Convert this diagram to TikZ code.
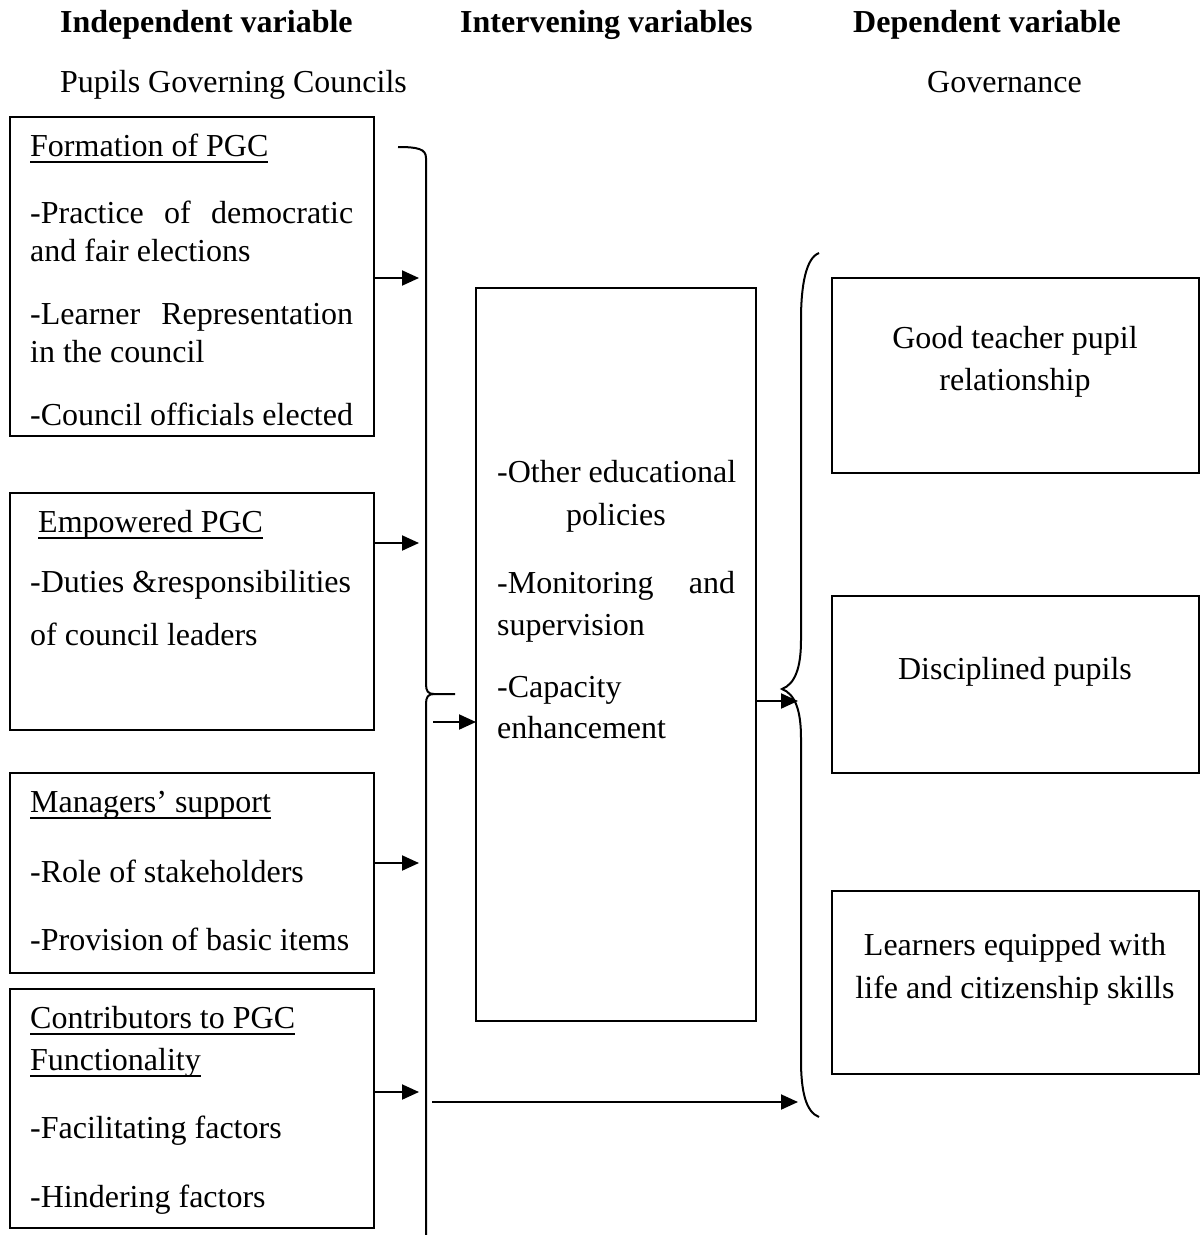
\documentclass[tikz,border=0pt]{standalone}
\usepackage{fontspec}
\setmainfont{Liberation Serif}
\usetikzlibrary{arrows.meta}
\newsavebox\ulbox
\newcommand\myul[1]{\sbox\ulbox{#1}\rlap{\rule[-7pt]{\wd\ulbox}{1.8pt}}\usebox\ulbox}
\begin{document}
\begin{tikzpicture}[x=1pt,y=-1pt,
  box/.style={draw,line width=1.8pt,anchor=north west,inner sep=0pt,outer sep=0pt},
  txt/.style={inner sep=0pt,anchor=base west,font=\fontsize{32}{37}\selectfont},
  ctxt/.style={txt,anchor=base},
  arr/.style={-{Triangle[length=17pt,width=15pt]},line width=2pt},
  brace/.style={line width=2pt}]
\useasboundingbox (0,0) rectangle (1200,1235);
% headers
\node[txt] (h1) at (60,32) {\bfseries Independent variable};
\node[txt] (h2) at (460,32) {\bfseries Intervening variables};
\node[txt] (h3) at (853,32) {\bfseries Dependent variable};
\node[txt] (s1) at (60,92) {Pupils Governing Councils};
\node[txt] (s3) at (927,92) {Governance};
% left boxes
\node[box,minimum width=364pt,minimum height=319pt] (L1) at (10,117) {};
\node[box,minimum width=364pt,minimum height=237pt] (L2) at (10,493) {};
\node[box,minimum width=364pt,minimum height=200pt] (L3) at (10,773) {};
\node[box,minimum width=364pt,minimum height=239pt] (L4) at (10,989) {};
% middle box
\node[box,minimum width=280pt,minimum height=733pt] (M) at (476,288) {};
% right boxes
\node[box,minimum width=367pt,minimum height=195pt] (R1) at (832,278) {};
\node[box,minimum width=367pt,minimum height=177pt] (R2) at (832,596) {};
\node[box,minimum width=367pt,minimum height=183pt] (R3) at (832,891) {};
% left texts
\node[txt] (l1a) at (30,156) {\myul{Formation of PGC}};
\node[txt] (l1b) at (30,223) {\makebox[323pt][s]{-Practice of democratic}};
\node[txt] (l1c) at (30,261) {and fair elections};
\node[txt] (l1d) at (30,324) {\makebox[323pt][s]{-Learner Representation}};
\node[txt] (l1e) at (30,362) {in the council};
\node[txt] (l1f) at (30,425) {-Council officials elected};
\node[txt] (l2a) at (38,532) {\myul{Empowered PGC}};
\node[txt] (l2b) at (30,592) {-Duties \&responsibilities};
\node[txt] (l2c) at (30,645) {of council leaders};
\node[txt] (l3a) at (30,812) {\myul{Managers’ support}};
\node[txt] (l3b) at (30,882) {-Role of stakeholders};
\node[txt] (l3c) at (30,950) {-Provision of basic items};
\node[txt] (l4a) at (30,1028) {\myul{Contributors to PGC}};
\node[txt] (l4b) at (30,1070) {\myul{Functionality}};
\node[txt] (l4c) at (30,1138) {-Facilitating factors};
\node[txt] (l4d) at (30,1207) {-Hindering factors};
% middle texts
\node[txt] (m1) at (497,482) {-Other educational};
\node[ctxt] (m2) at (616,525) {policies};
\node[txt] (m3) at (497,593) {\makebox[238pt][s]{-Monitoring and}};
\node[txt] (m4) at (497,635) {supervision};
\node[txt] (m5) at (497,697) {-Capacity};
\node[txt] (m6) at (497,738) {enhancement};
% right texts
\node[ctxt] (r1a) at (1015,348) {Good teacher pupil};
\node[ctxt] (r1b) at (1015,390) {relationship};
\node[ctxt] (r2a) at (1015,679) {Disciplined pupils};
\node[ctxt] (r3a) at (1015,955) {Learners equipped with};
\node[ctxt] (r3b) at (1015,998) {life and citizenship skills};
% left brace
\draw[brace] (398,147) .. controls (418,147) and (426,149) .. (426,158) -- (426,684)
  .. controls (426,691) and (428,694) .. (434,694) -- (455,694);
\draw[brace] (434,694) .. controls (428,694) and (426,697) .. (426,704) -- (426,1235);
% right brace
\draw[brace] (819,253) .. controls (806,258) and (801,285) .. (801,320) -- (801,640)
  .. controls (801,668) and (795,684) .. (782,689)
  .. controls (795,694) and (801,710) .. (801,738) -- (801,1060)
  .. controls (801,1092) and (806,1112) .. (819,1117);
% arrows from left boxes
\coordinate (a1) at (419,278);
\coordinate (a2) at (419,543);
\coordinate (a3) at (419,863);
\coordinate (a4) at (419,1092);
\draw[arr] (L1.east |- a1) -- (a1);
\draw[arr] (L2.east |- a2) -- (a2);
\draw[arr] (L3.east |- a3) -- (a3);
\draw[arr] (L4.east |- a4) -- (a4);
% into middle box
\coordinate (mi) at (433,722);
\draw[arr] (mi) -- (M.west |- mi);
% out of middle box
\coordinate (mo) at (798,701);
\draw[arr] (M.east |- mo) -- (mo);
% bottom long arrow
\coordinate (lb) at (432,1102);
\coordinate (rb) at (798,1102);
\draw[arr] (lb) -- (rb);
\end{tikzpicture}
\end{document}
